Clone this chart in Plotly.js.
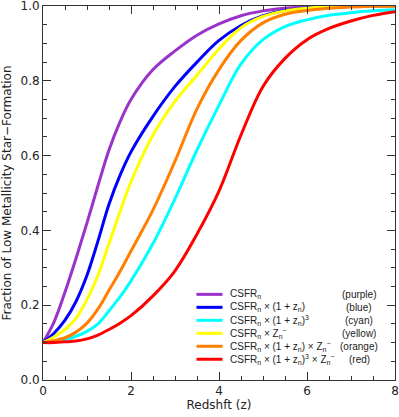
<!DOCTYPE html>
<html>
<head>
<meta charset="utf-8">
<script src="https://cdn.plot.ly/plotly-3.0.1.min.js"></script>
<style>html,body{margin:0;padding:0;background:#fff;}#chart{width:399px;height:417px;}</style>
</head>
<body>
<div id="chart"></div>
<script>
// Redshift grid
const redshift = [0,0.25,0.5,0.75,1,1.25,1.5,1.75,2,2.5,3,3.5,4,4.5,5,5.5,6,6.5,7,7.5,8];

// Fraction of low-metallicity star formation for each model
const purple = [0.1,0.155,0.235,0.325,0.42,0.52,0.615,0.69,0.75,0.83,0.88,0.922,0.952,0.974,0.987,0.994,0.997,0.999,1,1,1];
const blue   = [0.1,0.125,0.16,0.21,0.28,0.372,0.47,0.547,0.61,0.705,0.785,0.85,0.908,0.948,0.974,0.988,0.995,0.998,1,1,1];
const cyan   = [0.1,0.103,0.108,0.117,0.13,0.15,0.185,0.222,0.265,0.365,0.485,0.615,0.735,0.845,0.91,0.945,0.963,0.975,0.982,0.987,0.99];
const yellow = [0.1,0.115,0.135,0.165,0.215,0.28,0.365,0.45,0.53,0.655,0.745,0.815,0.885,0.942,0.972,0.987,0.994,0.998,1,1,1];
const orange = [0.1,0.105,0.113,0.128,0.152,0.19,0.24,0.29,0.345,0.455,0.585,0.725,0.83,0.908,0.955,0.978,0.988,0.994,0.997,0.999,1];
const red    = [0.1,0.1,0.102,0.104,0.11,0.12,0.135,0.152,0.172,0.225,0.292,0.39,0.505,0.655,0.785,0.86,0.91,0.94,0.96,0.975,0.985];

const seriesValues = [purple, blue, cyan, yellow, orange, red];
const seriesColors = ['#9933CC','#0000FF','#00FFFF','#FFFF00','#FF7F00','#FF0000'];
const seriesLabels = [
  'CSFR<sub>n</sub>',
  'CSFR<sub>n</sub> × (1 + z<sub>n</sub>)',
  'CSFR<sub>n</sub> × (1 + z<sub>n</sub>)<sup>3</sup>',
  'CSFR<sub>n</sub> × Z<sub>n</sub><sup>−</sup>',
  'CSFR<sub>n</sub> × (1 + z<sub>n</sub>) × Z<sub>n</sub><sup>−</sup>',
  'CSFR<sub>n</sub> × (1 + z<sub>n</sub>)<sup>3</sup> × Z<sub>n</sub><sup>−</sup>'
];
const colorNames = ['(purple)','(blue)','(cyan)','(yellow)','(orange)','(red)'];

const xTickVals = [0,2,4,6,8];
const yTickVals = [0,0.2,0.4,0.6,0.8,1.0];
const yTickText = ['0.0','0.2','0.4','0.6','0.8','1.0'];

const FONT = 'DejaVu Sans, sans-serif';
const LFONT = 'Liberation Sans, Arial, sans-serif';
const TXT = '#222';

const traces = seriesValues.map((vals, i) => ({
  x: redshift, y: vals, type: 'scatter', mode: 'lines',
  line: {color: seriesColors[i], width: 3, shape: 'spline', smoothing: 1},
  name: seriesLabels[i], showlegend: false, hoverinfo: 'skip'
}));

// Hand-built compact legend (paper coordinates)
const shapes = [];
const annotations = [];
const legTop = 0.229, legStep = 0.0347;
seriesLabels.forEach((lab, i) => {
  const yy = legTop - i * legStep;
  shapes.push({type:'line', xref:'paper', yref:'paper', x0:0.436, x1:0.510, y0:yy, y1:yy,
               line:{color: seriesColors[i], width: 3}});
  annotations.push({xref:'paper', yref:'paper', x:0.525, y:yy, xanchor:'left', yanchor:'middle',
               text: lab, showarrow:false, font:{family:LFONT, size:10, color:TXT}});
  annotations.push({xref:'paper', yref:'paper', x:0.898, y:yy, xanchor:'center', yanchor:'middle',
               text: colorNames[i], showarrow:false, font:{family:LFONT, size:10, color:TXT}});
});

const axisCommon = {
  showgrid: false, zeroline: false, showline: true, linecolor: '#333', linewidth: 1,
  mirror: 'ticks', ticks: 'inside', ticklen: 8, tickwidth: 1, tickcolor: '#333',
  ticklabeloverflow: 'allow',
  tickfont: {family: FONT, size: 12, color: TXT}
};

const layout = {
  width: 399, height: 417,
  margin: {l: 43, r: 4, t: 6, b: 37},
  paper_bgcolor: '#fff', plot_bgcolor: '#fff',
  showlegend: false,
  xaxis: Object.assign({}, axisCommon, {
    range: [0, 8], tickvals: xTickVals, ticktext: xTickVals.map(String),
    minor: {ticks: 'inside', ticklen: 4, dtick: 0.5, tickcolor: '#333', showgrid: false},
    title: {text: 'Redshft (z)', font: {family: FONT, size: 12, color: TXT}, standoff: 2}
  }),
  yaxis: Object.assign({}, axisCommon, {
    range: [0, 1], tickvals: yTickVals, ticktext: yTickText,
    minor: {ticks: 'inside', ticklen: 4, dtick: 0.05, tickcolor: '#333', showgrid: false},
    title: {text: 'Fraction of Low Metallicity Star\u2212Formation', font: {family: FONT, size: 12, color: TXT}, standoff: 6}
  }),
  shapes: shapes,
  annotations: annotations
};

Plotly.newPlot('chart', traces, layout, {displayModeBar: false, staticPlot: true});
</script>
</body>
</html>
